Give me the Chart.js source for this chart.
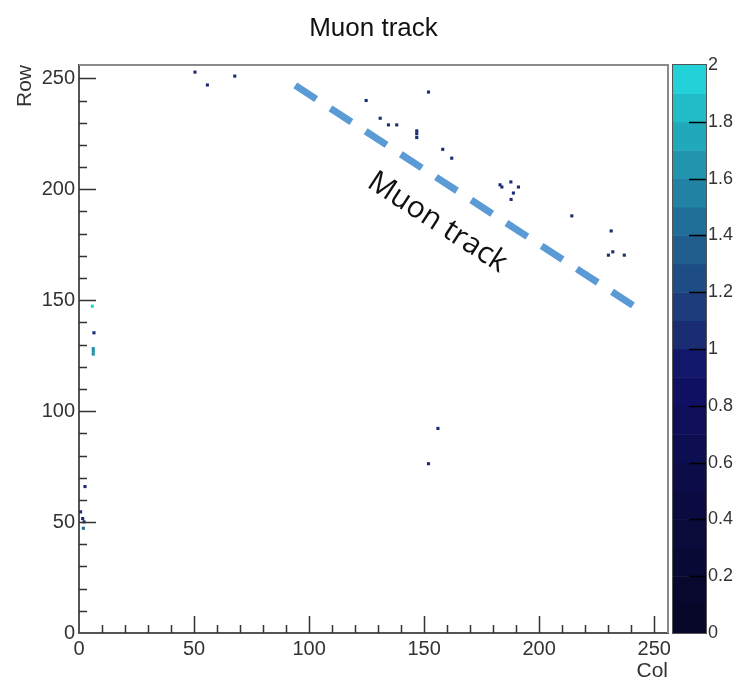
<!DOCTYPE html>
<html>
<head>
<meta charset="utf-8">
<script src="https://cdn.jsdelivr.net/npm/chart.js@4.4.1/dist/chart.umd.min.js"></script>
<style>
  html, body { margin: 0; padding: 0; background: #fff; }
</style>
</head>
<body>
<canvas id="muon-chart" width="747" height="684"></canvas>
<script>
// hit bins (col, row, content)
const hitCol = [50.4, 55.8, 67.7, 124.8, 151.9, 130.9, 134.5, 138.1, 146.8, 146.8, 146.8, 158.1, 162.0,
  183.0, 183.8, 187.7, 191.0, 188.8, 187.8, 214.2, 231.3, 230.1, 232.0, 237.0,
  156.0, 151.9, 5.8, 6.5, 6.2, 6.2, 6.2, 2.6, 0.7, 1.6, 2.2, 1.9];
const hitRow = [252.8, 247.0, 251.0, 240.0, 243.8, 232.0, 229.0, 229.0, 226.3, 225.0, 223.3, 218.0, 214.0,
  202.0, 201.0, 203.3, 201.0, 198.3, 195.4, 188.0, 181.2, 170.3, 171.8, 170.3,
  92.2, 76.3, 147.3, 135.3, 128.2, 127.0, 125.7, 66.0, 54.6, 51.6, 50.1, 47.2];
const hitVal = [1, 1, 1, 1, 1, 1, 1, 1, 1, 1, 1, 1, 1,
  1, 1, 1, 1, 1, 1, 1, 1, 1, 1, 1,
  1, 1, 2, 1, 1.6, 1.6, 1.6, 1, 1, 1, 1, 1.4];

// hand-drawn track marker
const trackCol = [94, 242.6];
const trackRow = [246.8, 146.4];
const trackLabel = 'Muon track';
const trackLabelAt = [155.7, 185];

// colour scale
const zLevels = [0, 0.1, 0.2, 0.3, 0.4, 0.5, 0.6, 0.7, 0.8, 0.9, 1.0, 1.1, 1.2, 1.3, 1.4, 1.5, 1.6, 1.7, 1.8, 1.9, 2.0];
const palette = ['#07072a', '#08082f', '#090935', '#0a0a3b', '#0b0b42', '#0c0c49', '#0d0d51', '#0e0e59',
  '#101062', '#13176a', '#1a2c72', '#1c3c7b', '#1e4c84', '#205e8e', '#216f98', '#2282a3', '#2294ad',
  '#21a8b9', '#21bcc6', '#22d2d8'];

const FONT = '"Liberation Sans", Arial, sans-serif';

function colorFor(v) {
  let i = Math.floor(v / 0.1 + 1e-6);
  if (i > palette.length - 1) i = palette.length - 1;
  if (i < 0) i = 0;
  return palette[i];
}

const hits = hitCol.map((c, i) => ({ x: c, y: hitRow[i], v: hitVal[i] }));
const track = trackCol.map((c, i) => ({ x: c, y: trackRow[i] }));

// ROOT style inward ticks, frame and the colour bar
const rootFrame = {
  id: 'rootFrame',
  afterDatasetsDraw(chart) {
    const { ctx, chartArea: a, scales } = chart;
    const xs = scales.x, ys = scales.y, zs = scales.yc;
    ctx.save();
    // top/right frame
    ctx.strokeStyle = '#8a8a8a';
    ctx.lineWidth = 2;
    ctx.beginPath();
    ctx.moveTo(a.left, a.top);
    ctx.lineTo(a.right, a.top);
    ctx.lineTo(a.right, a.bottom);
    ctx.stroke();
    // ticks
    ctx.strokeStyle = '#333';
    ctx.lineWidth = 1.5;
    ctx.beginPath();
    for (let v = 10; v <= 250; v += 10) {
      const len = v % 50 === 0 ? 17 : 8;
      const px = Math.round(xs.getPixelForValue(v)) + 0.5;
      ctx.moveTo(px, a.bottom);
      ctx.lineTo(px, a.bottom - len);
      const py = Math.round(ys.getPixelForValue(v)) + 0.5;
      ctx.moveTo(a.left, py);
      ctx.lineTo(a.left + len, py);
    }
    ctx.stroke();

    // colour bar
    const bx = a.right + 5, bw = 33;
    for (let i = 0; i < palette.length; i++) {
      const y0 = zs.getPixelForValue(zLevels[i]);
      const y1 = zs.getPixelForValue(zLevels[i + 1]);
      ctx.fillStyle = palette[i];
      ctx.fillRect(bx, y1, bw, y0 - y1 + 0.5);
    }
    ctx.strokeStyle = '#555';
    ctx.lineWidth = 1;
    ctx.strokeRect(bx - 0.5, zs.top - 0.5, bw + 1, zs.bottom - zs.top + 1);
    ctx.strokeStyle = '#000';
    ctx.lineWidth = 1.5;
    ctx.beginPath();
    for (let k = 1; k < 10; k++) {
      const py = Math.round(zs.getPixelForValue(k * 0.2)) + 0.5;
      ctx.moveTo(bx + bw, py);
      ctx.lineTo(bx + bw - 17, py);
    }
    ctx.stroke();

    // track label
    const tx = xs.getPixelForValue(trackLabelAt[0]);
    const ty = ys.getPixelForValue(trackLabelAt[1]);
    ctx.translate(tx, ty);
    ctx.rotate(33 * Math.PI / 180);
    ctx.fillStyle = '#111';
    ctx.font = '30px "Open Sans", sans-serif';
    ctx.textAlign = 'center';
    ctx.textBaseline = 'middle';
    ctx.fillText(trackLabel, 0, 0);
    ctx.restore();
  }
};

new Chart(document.getElementById('muon-chart'), {
  type: 'scatter',
  data: {
    datasets: [
      {
        label: 'track',
        data: track,
        showLine: true,
        borderColor: '#5b9bd5',
        borderWidth: 7,
        borderDash: [25, 17],
        borderCapStyle: 'butt',
        pointRadius: 0,
        order: 2
      },
      {
        label: 'hits',
        data: hits,
        pointStyle: 'rect',
        pointRadius: 2.2,
        borderWidth: 0,
        backgroundColor: ctx => colorFor(ctx.raw ? ctx.raw.v : 1),
        order: 1
      }
    ]
  },
  options: {
    responsive: false,
    animation: false,
    layout: { padding: 0 },
    plugins: {
      legend: { display: false },
      tooltip: { enabled: false },
      title: {
        display: true,
        text: 'Muon track',
        color: '#111',
        font: { family: FONT, size: 26, weight: 'normal', lineHeight: 1.2 },
        padding: { top: 13, bottom: 20.8 }
      }
    },
    scales: {
      x: {
        type: 'linear',
        min: 0,
        max: 256,
        ticks: { stepSize: 50, includeBounds: false, maxRotation: 0, padding: 4, color: '#333', font: { family: FONT, size: 20 } },
        grid: { display: false, drawTicks: false },
        border: { display: true, color: '#555', width: 2 },
        title: { display: true, text: 'Col', align: 'end', color: '#333', font: { family: FONT, size: 21 }, padding: { top: 0, bottom: 0 } },
        afterFit: s => { s.height = 51; }
      },
      y: {
        type: 'linear',
        min: 0,
        max: 256,
        ticks: { stepSize: 50, includeBounds: false, padding: 4, color: '#333', font: { family: FONT, size: 20 } },
        grid: { display: false, drawTicks: false },
        border: { display: true, color: '#555', width: 2 },
        title: { display: true, text: 'Row', align: 'end', color: '#333', font: { family: FONT, size: 21 }, padding: { top: 13, bottom: 0 } },
        afterFit: s => { s.width = 79; }
      },
      yc: {
        type: 'linear',
        position: 'right',
        min: 0,
        max: 2,
        ticks: {
          stepSize: 0.2,
          padding: 40,
          color: '#333',
          font: { family: FONT, size: 18 },
          callback: v => String(Math.round(v * 10) / 10)
        },
        grid: { display: false, drawTicks: false },
        border: { display: false },
        afterFit: s => { s.width = 79; }
      }
    }
  },
  plugins: [rootFrame]
});
</script>
</body>
</html>
